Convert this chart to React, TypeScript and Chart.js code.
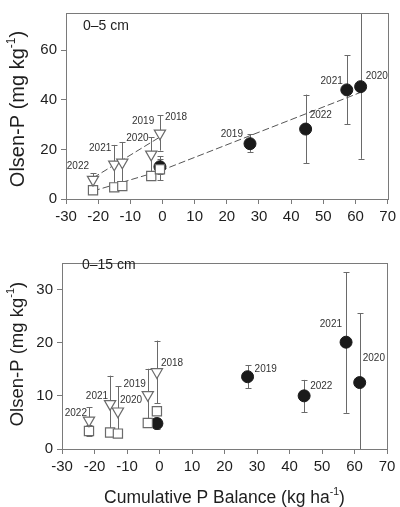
import React, { useEffect, useRef } from "react";
import { Chart, registerables } from "chart.js";
Chart.register(...registerables);

// ---------- Data: 0–5 cm ----------
const topTriX = [-21.6, -15.0, -12.5, -3.5, -0.8];
const topTriY = [7.8, 14.0, 14.8, 18.0, 26.5];
const topTriLo = [5.5, 6.5, 6.5, 10.8, 19.5];
const topTriHi = [10.3, 21.8, 23.0, 25.0, 33.8];
const topSqX = [-21.6, -15.0, -12.5, -3.5, -0.8];
const topSqY = [3.5, 4.7, 5.2, 9.3, 12.0];
const topSqLo = [2.5, 3.8, 4.2, 8.0, 7.5];
const topSqHi = [5.0, 5.6, 6.2, 10.8, 16.0];
const topDotX = [-0.8, 27.2, 44.5, 57.3, 61.6];
const topDotY = [13.0, 22.3, 28.2, 44.0, 45.3];
const topDotLo = [10.0, 19.0, 14.5, 30.2, 16.2];
const topDotHi = [17.3, 26.2, 42.1, 57.9, 74.8];
const topFitTriX = [-21.6, -0.8];
const topFitTriY = [8.5, 25.0];
const topFitDotX = [-21.6, -0.8, 61.6];
const topFitDotY = [3.2, 11.3, 43.0];

// ---------- Data: 0–15 cm ----------
const botTriX = [-21.7, -15.2, -12.8, -3.6, -0.8];
const botTriY = [5.4, 8.5, 7.1, 10.2, 14.5];
const botTriLo = [3.0, 3.0, 2.8, 5.5, 8.6];
const botTriHi = [7.9, 13.8, 11.8, 15.1, 20.4];
const botSqX = [-21.7, -15.2, -12.8, -3.6, -0.8];
const botSqY = [3.4, 3.1, 2.9, 4.9, 7.1];
const botSqLo = [2.4, 2.7, 2.6, 4.1, 6.6];
const botSqHi = [4.5, 3.5, 3.2, 5.6, 7.6];
const botDotX = [-0.8, 27.1, 44.5, 57.4, 61.6];
const botDotY = [4.8, 13.6, 10.0, 20.1, 12.5];
const botDotLo = [3.8, 11.4, 6.9, 6.8, 0];
const botDotHi = [5.8, 15.8, 13.0, 33.3, 25.5];

// ---------- Labels ----------
const triYears = ["2022", "2021", "2020", "2019", "2018"];
const dotYears = ["", "2019", "2022", "2021", "2020"];
const xTicks = [-30, -20, -10, 0, 10, 20, 30, 40, 50, 60, 70];
const topYTicks = [0, 20, 40, 60];
const botYTicks = [0, 10, 20, 30];

// label placement (style): [align, dx, dy]
const topTriLabelPos: any[] = [["right", -4, -13], ["right", -3, -16], ["left", 4, -24], ["right", 3, -33], ["left", 5, -16]];
const topDotLabelPos: any[] = [null, ["right", -7, -9], ["left", 4, -14], ["right", -4, -8.5], ["left", 5, -10]];
const botTriLabelPos: any[] = [["right", -2, -7], ["right", -2, -8], ["left", 2, -11], ["right", -2, -10.5], ["left", 4, -8.5]];
const botDotLabelPos: any[] = [null, ["left", 7, -7], ["left", 6, -10], ["right", -4, -18], ["left", 3, -24]];

const FONT = "'Liberation Sans', Arial, Helvetica, sans-serif";
const AXIS = "#7a7a7a";
const TEXT = "#1e1e1e";
const LABEL = "#333333";
const ERR = "#6a6a6a";

const pts = (xs: number[], ys: number[]) => xs.map((x, i) => ({ x, y: ys[i] }));

function drawRich(ctx: any, parts: any[], x: number, y: number, rotate: boolean, baseSize: number) {
  ctx.save();
  ctx.translate(x, y);
  if (rotate) ctx.rotate(-Math.PI / 2);
  let total = 0;
  const widths = parts.map((p) => {
    ctx.font = `${p.size}px ${FONT}`;
    const w = ctx.measureText(p.text).width;
    total += w;
    return w;
  });
  let cx = -total / 2;
  const base = baseSize * 0.36;
  ctx.fillStyle = TEXT;
  ctx.textBaseline = "alphabetic";
  ctx.textAlign = "left";
  parts.forEach((p, i) => {
    ctx.font = `${p.size}px ${FONT}`;
    ctx.fillText(p.text, cx, base - p.rise);
    cx += widths[i];
  });
  ctx.restore();
}

const panelPlugin = {
  id: "panelExtras",
  beforeDatasetsDraw(chart: any) {
    const ctx = chart.ctx;
    const xs = chart.scales.x;
    const ys = chart.scales.y;
    const a = chart.chartArea;
    ctx.save();
    ctx.beginPath();
    ctx.rect(a.left, a.top - 1, a.right - a.left, a.bottom - a.top + 2);
    ctx.clip();
    ctx.strokeStyle = ERR;
    ctx.lineWidth = 1;
    chart.data.datasets.forEach((ds: any) => {
      if (!ds.errLo) return;
      ds.data.forEach((p: any, i: number) => {
        const px = Math.round(xs.getPixelForValue(p.x)) + 0.5;
        const y1 = ys.getPixelForValue(ds.errLo[i]);
        const y2 = ys.getPixelForValue(ds.errHi[i]);
        ctx.beginPath();
        ctx.moveTo(px, y1);
        ctx.lineTo(px, y2);
        ctx.moveTo(px - 3, Math.round(y1) + 0.5);
        ctx.lineTo(px + 3, Math.round(y1) + 0.5);
        ctx.moveTo(px - 3, Math.round(y2) + 0.5);
        ctx.lineTo(px + 3, Math.round(y2) + 0.5);
        ctx.stroke();
      });
    });
    ctx.restore();
  },
  afterDraw(chart: any) {
    const ctx = chart.ctx;
    const xs = chart.scales.x;
    const ys = chart.scales.y;
    const a = chart.chartArea;
    const o = chart.options.plugins.panelExtras;
    // frame
    ctx.save();
    ctx.strokeStyle = AXIS;
    ctx.lineWidth = 1;
    ctx.strokeRect(Math.round(a.left) + 0.5, Math.round(a.top) + 0.5, Math.round(a.right - a.left), Math.round(a.bottom - a.top));
    ctx.restore();
    // year labels
    ctx.save();
    ctx.font = `10px ${FONT}`;
    ctx.fillStyle = LABEL;
    ctx.textBaseline = "middle";
    chart.data.datasets.forEach((ds: any) => {
      if (!ds.years) return;
      ds.data.forEach((p: any, i: number) => {
        const pos = ds.labelPos[i];
        if (!pos || !ds.years[i]) return;
        ctx.textAlign = pos[0];
        ctx.fillText(ds.years[i], xs.getPixelForValue(p.x) + pos[1], ys.getPixelForValue(p.y) + pos[2]);
      });
    });
    ctx.restore();
    // panel label
    ctx.save();
    ctx.font = `14px ${FONT}`;
    ctx.fillStyle = TEXT;
    ctx.textBaseline = "middle";
    ctx.textAlign = "left";
    ctx.fillText(o.panelLabel, o.panelLabelX, o.panelLabelY);
    ctx.restore();
    // y title
    const ys2 = o.yTitleSize;
    drawRich(ctx, [
      { text: "Olsen-P (mg kg", size: ys2, rise: 0 },
      { text: "-1", size: ys2 * 0.6, rise: ys2 * 0.45 },
      { text: ")", size: ys2, rise: 0 },
    ], o.yTitleX, o.yTitleY, true, ys2);
    if (o.xTitle) {
      const xs2 = o.xTitleSize;
      drawRich(ctx, [
        { text: "Cumulative P Balance (kg ha", size: xs2, rise: 0 },
        { text: "-1", size: xs2 * 0.6, rise: xs2 * 0.45 },
        { text: ")", size: xs2, rise: 0 },
      ], (a.left + a.right) / 2, o.xTitleY, false, xs2);
    }
  },
};

function makeConfig(p: any) {
  const tickFont = { family: FONT, size: 15 };
  return {
    type: "scatter",
    data: {
      datasets: [
        { type: "line", data: pts(p.fitTriX, p.fitTriY), borderColor: "#555", borderWidth: 1, borderDash: [7, 3], pointRadius: 0, fill: false, order: 10 },
        { type: "line", data: pts(p.fitDotX, p.fitDotY), borderColor: "#555", borderWidth: 1, borderDash: [7, 3], pointRadius: 0, fill: false, order: 10 },
        { data: pts(p.dotX, p.dotY), errLo: p.dotLo, errHi: p.dotHi, years: dotYears, labelPos: p.dotLabelPos, pointStyle: "circle", pointRadius: 6, backgroundColor: "#1a1a1a", borderColor: "#1a1a1a", borderWidth: 1, order: 3 },
        { data: pts(p.sqX, p.sqY), errLo: p.sqLo, errHi: p.sqHi, pointStyle: "rect", pointRadius: 6.5, backgroundColor: "#ffffff", borderColor: "#6a6a6a", borderWidth: 1.2, order: 2 },
        { data: pts(p.triX, p.triY), errLo: p.triLo, errHi: p.triHi, years: triYears, labelPos: p.triLabelPos, pointStyle: "triangle", rotation: 180, pointRadius: 6.5, backgroundColor: "#ffffff", borderColor: "#6a6a6a", borderWidth: 1.2, order: 1 },
      ],
    },
    options: {
      responsive: false,
      animation: false,
      devicePixelRatio: 1,
      layout: { padding: { left: 0, right: p.padRight, top: p.padTop, bottom: 0 } },
      plugins: {
        legend: { display: false },
        tooltip: { enabled: false },
        panelExtras: p.extras,
      },
      scales: {
        x: {
          type: "linear",
          min: -30,
          max: 70,
          afterBuildTicks: (s: any) => { s.ticks = xTicks.map((v) => ({ value: v })); },
          ticks: { font: tickFont, color: TEXT, padding: 4, maxRotation: 0, autoSkip: false },
          grid: { drawOnChartArea: false, drawTicks: true, tickLength: 5, tickColor: AXIS, color: AXIS },
          border: { display: true, color: AXIS, width: 1 },
          afterFit: (s: any) => { s.height = p.xAxisH; },
        },
        y: {
          type: "linear",
          min: 0,
          max: p.yMax,
          afterBuildTicks: (s: any) => { s.ticks = p.yTicks.map((v: number) => ({ value: v })); },
          ticks: { font: tickFont, color: TEXT, padding: 4, autoSkip: false },
          grid: { drawOnChartArea: false, drawTicks: true, tickLength: 5, tickColor: AXIS, color: AXIS },
          border: { display: true, color: AXIS, width: 1 },
          afterFit: (s: any) => { s.width = p.yAxisW; },
        },
      },
    },
    plugins: [panelPlugin],
  };
}

const topPanel = {
  triX: topTriX, triY: topTriY, triLo: topTriLo, triHi: topTriHi, triLabelPos: topTriLabelPos,
  sqX: topSqX, sqY: topSqY, sqLo: topSqLo, sqHi: topSqHi,
  dotX: topDotX, dotY: topDotY, dotLo: topDotLo, dotHi: topDotHi, dotLabelPos: topDotLabelPos,
  fitTriX: topFitTriX, fitTriY: topFitTriY, fitDotX: topFitDotX, fitDotY: topFitDotY,
  yMax: 75, yTicks: topYTicks, yAxisW: 66, padRight: 9, padTop: 1, xAxisH: 51,
  extras: { panelLabel: "0–5 cm", panelLabelX: 83, panelLabelY: 26, yTitleSize: 20, yTitleX: 17, yTitleY: 109, xTitle: false },
};

const botPanel = {
  triX: botTriX, triY: botTriY, triLo: botTriLo, triHi: botTriHi, triLabelPos: botTriLabelPos,
  sqX: botSqX, sqY: botSqY, sqLo: botSqLo, sqHi: botSqHi,
  dotX: botDotX, dotY: botDotY, dotLo: botDotLo, dotHi: botDotHi, dotLabelPos: botDotLabelPos,
  fitTriX: [], fitTriY: [], fitDotX: [], fitDotY: [],
  yMax: 35, yTicks: botYTicks, yAxisW: 62, padRight: 13, padTop: 1, xAxisH: 58,
  extras: { panelLabel: "0–15 cm", panelLabelX: 82, panelLabelY: 15, yTitleSize: 18.5, yTitleX: 16, yTitleY: 104, xTitle: true, xTitleSize: 17.5, xTitleY: 246.5 },
};

function Panel({ cfg, width, height }: any) {
  const ref = useRef<HTMLCanvasElement | null>(null);
  useEffect(() => {
    if (!ref.current) return;
    const chart = new Chart(ref.current, makeConfig(cfg) as any);
    return () => chart.destroy();
  }, []);
  return <canvas ref={ref} width={width} height={height} style={{ display: "block", width, height }} />;
}

export default function App() {
  return (
    <div style={{ position: "absolute", left: 0, top: 0, width: 400, height: 507, background: "#fff" }}>
      <Panel cfg={topPanel} width={400} height={250} />
      <Panel cfg={botPanel} width={400} height={257} />
    </div>
  );
}
